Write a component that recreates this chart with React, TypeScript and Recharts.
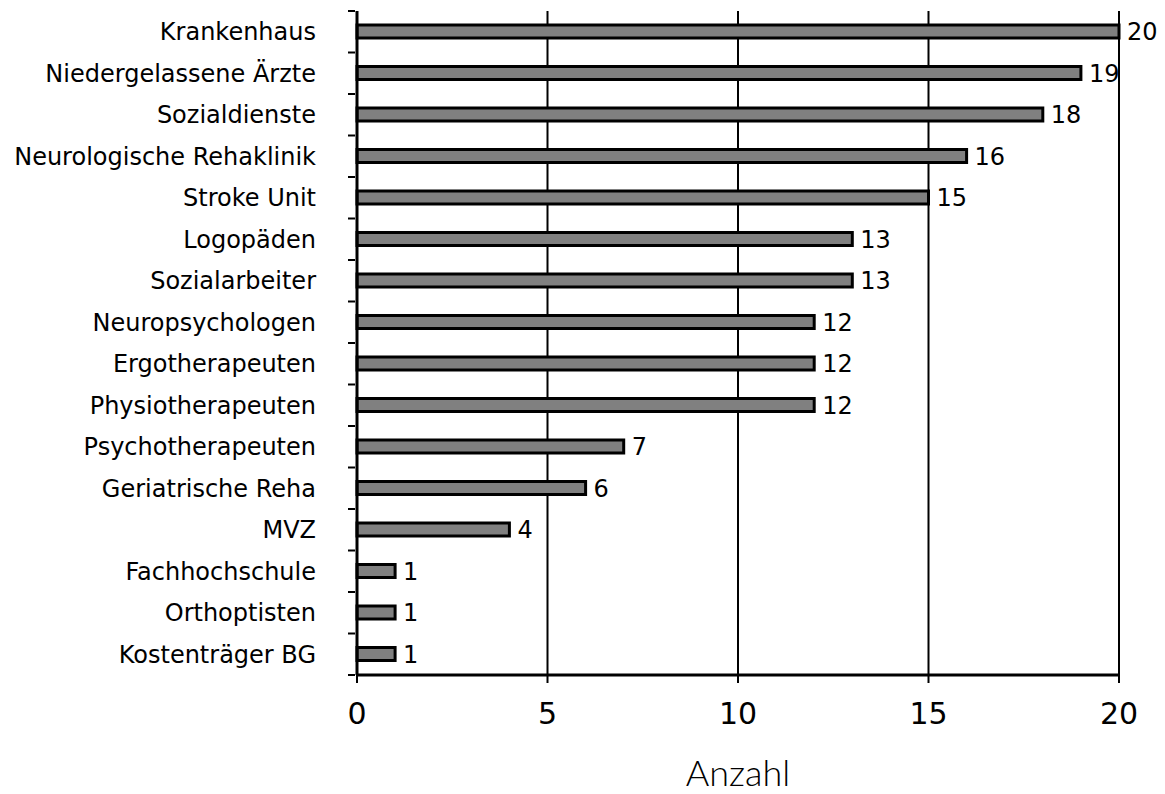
import { Bar, BarChart, CartesianGrid, LabelList, XAxis, YAxis } from 'recharts';

document.body.style.margin = '0';

const categories = [
  'Krankenhaus',
  'Niedergelassene Ärzte',
  'Sozialdienste',
  'Neurologische Rehaklinik',
  'Stroke Unit',
  'Logopäden',
  'Sozialarbeiter',
  'Neuropsychologen',
  'Ergotherapeuten',
  'Physiotherapeuten',
  'Psychotherapeuten',
  'Geriatrische Reha',
  'MVZ',
  'Fachhochschule',
  'Orthoptisten',
  'Kostenträger BG'
];

const counts = [20, 19, 18, 16, 15, 13, 13, 12, 12, 12, 7, 6, 4, 1, 1, 1];

const xTicks = [0, 5, 10, 15, 20];

const FONT = '"DejaVu Sans", sans-serif';
const TITLE_FONT = 'Lato, sans-serif';

const data = categories.map((name, i) => ({ name, value: counts[i] }));

// category label plus a small tick on the band boundary above it (and below the last one)
function CategoryTick(props: any) {
  const { x, y, payload, index } = props;
  const half = payload.offset ?? 0;
  const axisX = x + 6;
  return (
    <g>
      <line x1={axisX} x2={axisX - 7} y1={y - half} y2={y - half} stroke='#000' strokeWidth={2} />
      {index === categories.length - 1 && (
        <line x1={axisX} x2={axisX - 7} y1={y + half} y2={y + half} stroke='#000' strokeWidth={2} />
      )}
      <text x={x - 33} y={y} dy='0.35em' textAnchor='end' fontFamily={FONT} fontSize={24} fill='#000'>
        {payload.value}
      </text>
    </g>
  );
}

export default function App() {
  return (
    <BarChart
      width={1165}
      height={794}
      data={data}
      layout='vertical'
      margin={{ top: 11, right: 46, left: 0, bottom: 0 }}>
      <CartesianGrid horizontal={false} stroke='#000' strokeWidth={2} strokeOpacity={1} />
      <XAxis
        type='number'
        domain={[0, 20]}
        ticks={xTicks}
        height={119}
        tickSize={8}
        tickMargin={20}
        axisLine={{ stroke: '#000', strokeWidth: 3 }}
        tickLine={{ stroke: '#000', strokeWidth: 2 }}
        tick={{ fill: '#000', fontSize: 30, fontFamily: FONT }}
        label={{
          value: 'Anzahl',
          position: 'insideBottom',
          offset: 8,
          fill: '#000',
          fontSize: 36,
          fontFamily: TITLE_FONT,
          fontWeight: 300
        }}
      />
      <YAxis
        type='category'
        dataKey='name'
        width={357}
        tickLine={false}
        axisLine={{ stroke: '#000', strokeWidth: 3 }}
        interval={0}
        tick={<CategoryTick />}
      />
      <Bar dataKey='value' fill='#808080' stroke='#000' strokeWidth={3} barSize={13} isAnimationActive={false}>
        <LabelList dataKey='value' position='right' offset={8} fill='#000' fontSize={24} fontFamily={FONT} />
      </Bar>
    </BarChart>
  );
}
